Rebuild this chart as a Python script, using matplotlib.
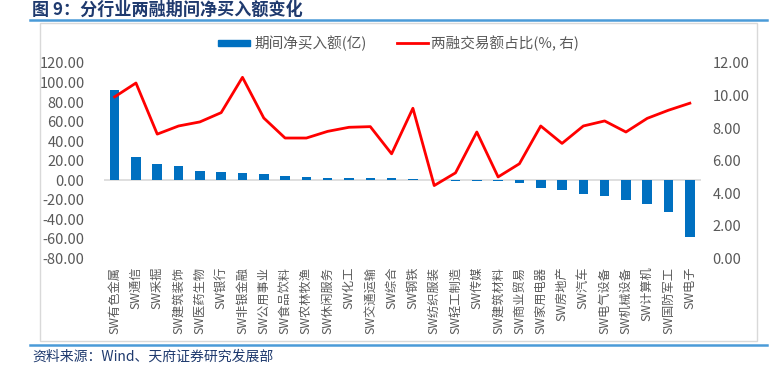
import matplotlib
matplotlib.use("Agg")
import matplotlib.pyplot as plt
from matplotlib.lines import Line2D
from matplotlib.patches import Rectangle

plt.rcParams['font.family'] = ['Noto Sans CJK SC', 'DejaVu Sans']

industries = ["有色金属", "通信", "采掘", "建筑装饰", "医药生物", "银行", "非银金融",
              "公用事业", "食品饮料", "农林牧渔", "休闲服务", "化工", "交通运输", "综合",
              "钢铁", "纺织服装", "轻工制造", "传媒", "建筑材料", "商业贸易", "家用电器",
              "房地产", "汽车", "电气设备", "机械设备", "计算机", "国防军工", "电子"]
labels = ["SW" + s for s in industries]

net_buy = [92.8, 23.9, 16.4, 14.4, 9.2, 8.2, 7.2, 6.2, 3.8, 3.1, 2.7, 2.1, 2.0, 1.9,
           1.7, 0.5, -0.5, -0.5, -0.8, -3.3, -8.0, -10.0, -14.5, -16.0, -20.4, -24.5,
           -32.4, -58.0]
share = [9.92, 10.77, 7.63, 8.13, 8.38, 8.95, 11.12, 8.62, 7.39, 7.39, 7.80, 8.05,
         8.09, 6.42, 9.22, 4.47, 5.25, 7.76, 5.00, 5.81, 8.13, 7.06, 8.13, 8.44, 7.76,
         8.60, 9.10, 9.53]

left_ticks = list(range(-80, 121, 20))
right_ticks = list(range(0, 13, 2))

W, H = 778, 373
fig = plt.figure(figsize=(W / 100, H / 100), dpi=100)

navy = "#1F3A6E"
lineblue = "#4A9BD8"
grey = "#595959"

# title and frame decorations
fig.text(32 / W, 1 - 10 / H, "图 9：分行业两融期间净买入额变化", fontsize=12.3, fontweight="bold",
         color=navy, va="center", ha="left")
fig.add_artist(Line2D([30 / W, 767 / W], [1 - 20 / H, 1 - 20 / H], color=lineblue, lw=1.8))
fig.add_artist(Rectangle((40 / W, 1 - 341 / H), (757 - 40) / W, (341 - 23) / H,
                         fill=False, edgecolor="#D9D9D9", lw=1))
fig.add_artist(Line2D([30 / W, 767 / W], [1 - 345 / H, 1 - 345 / H], color=lineblue, lw=1.8))
fig.text(32 / W, 1 - 357 / H, "资料来源：Wind、天府证券研究发展部", fontsize=10,
         color=navy, va="center", ha="left")

ax = fig.add_axes([104 / W, 1 - 258.3 / H, (700.5 - 104) / W, (258.3 - 63) / H])
x = list(range(len(labels)))
ax.bar(x, net_buy, width=0.45, color="#0070C0", zorder=2)
ax.axhline(0, color="#D9D9D9", lw=1.2, zorder=1)
ax.set_ylim(-80, 120)
ax.set_xlim(-0.5, len(labels) - 0.5)
ax.set_yticks(left_ticks)
ax.set_yticklabels([f"{v:.2f}" for v in left_ticks], color=grey, fontsize=10.5)
ax.set_xticks(x)
ax.set_xticklabels(labels, rotation=90, ha="center", va="top", color=grey, fontsize=8.8)
ax.tick_params(axis="both", length=0)
ax.tick_params(axis="y", pad=14)
ax.tick_params(axis="x", pad=6)
for s in ax.spines.values():
    s.set_visible(False)

ax2 = ax.twinx()
ax2.plot(x, share, color="#FF0000", lw=2, zorder=3)
ax2.set_ylim(0, 12)
ax2.set_yticks(right_ticks)
ax2.set_yticklabels([f"{v:.2f}" for v in right_ticks], color=grey, fontsize=10.5)
ax2.tick_params(axis="y", length=0, pad=8.5)
for s in ax2.spines.values():
    s.set_visible(False)

# legend
fig.add_artist(Rectangle((218 / W, 1 - 46 / H), 32 / W, 6 / H, color="#0070C0"))
fig.text(254 / W, 1 - 43 / H, "期间净买入额(亿)", fontsize=10.5, color=grey, va="center")
fig.add_artist(Line2D([397 / W, 428 / W], [1 - 43 / H, 1 - 43 / H], color="#FF0000", lw=2))
fig.text(431 / W, 1 - 43 / H, "两融交易额占比(%, 右)", fontsize=10.5, color=grey, va="center")

fig.savefig("out.png", dpi=100)
